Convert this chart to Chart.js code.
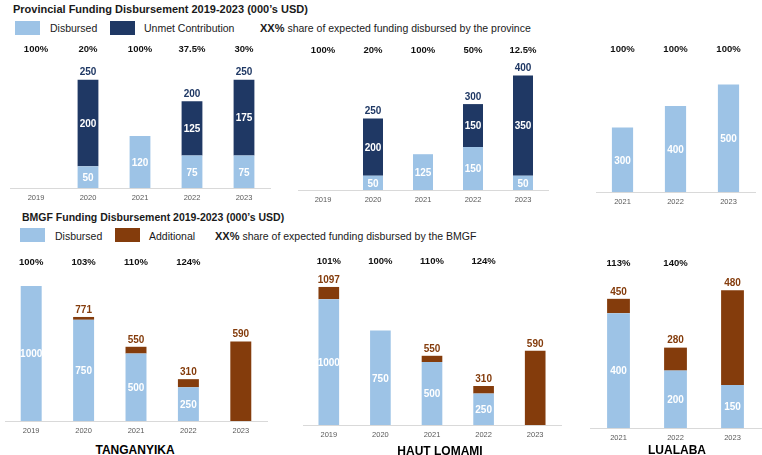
<!DOCTYPE html>
<html lang="en">
<head>
  <meta charset="UTF-8" />
  <title>Funding Disbursement 2019-2023</title>
  <script src="https://cdn.jsdelivr.net/npm/chart.js"></script>
  <style>
    body {
      margin: 0;
      padding: 0;
      background: #fff;
      font-family: "Liberation Sans", Arial, sans-serif;
    }
    #page {
      position: relative;
      width: 762px;
      height: 455px;
      overflow: hidden;
    }
    #page canvas, .txt, .swatch {
      position: absolute;
    }
    .title {
      font-weight: bold;
      font-size: 11px;
      color: #1a1a1a;
      white-space: nowrap;
    }
    .leg {
      font-size: 10.5px;
      color: #1a1a1a;
      white-space: nowrap;
      line-height: 14px;
    }
    .leg b {
      font-size: 11px;
    }
    .swatch {
      width: 25px;
      height: 14px;
    }
    .region {
      font-weight: bold;
      font-size: 12px;
      width: 200px;
      text-align: center;
      line-height: 16px;
      color: #000;
    }
  </style>
</head>
<body>

<div id="page">
  <div class="txt title" style="left:13px; top:2px; line-height:14px;">Provincial Funding Disbursement 2019-2023 (000’s USD)</div>
  <div class="swatch" style="left:15px; top:21px; background:#9dc3e6;"></div>
  <div class="txt leg" style="left:50px; top:21px;">Disbursed</div>
  <div class="swatch" style="left:110px; top:21px; background:#1f3864;"></div>
  <div class="txt leg" style="left:144px; top:21px;">Unmet Contribution</div>
  <div class="txt leg" style="left:260px; top:21px;"><b>XX%</b> share of expected funding disbursed by the province</div>

  <div class="txt title" style="left:22px; top:210px; line-height:14px; font-size:10.5px;">BMGF Funding Disbursement 2019-2023 (000’s USD)</div>
  <div class="swatch" style="left:20px; top:228px; background:#9dc3e6;"></div>
  <div class="txt leg" style="left:55px; top:229px;">Disbursed</div>
  <div class="swatch" style="left:115px; top:228px; background:#843c0c;"></div>
  <div class="txt leg" style="left:149px; top:229px;">Additional</div>
  <div class="txt leg" style="left:215px; top:229px;"><b>XX%</b> share of expected funding disbursed by the BMGF</div>

  <canvas id="provTang"></canvas>
  <canvas id="provHaut"></canvas>
  <canvas id="provLual"></canvas>
  <canvas id="bmgfTang"></canvas>
  <canvas id="bmgfHaut"></canvas>
  <canvas id="bmgfLual"></canvas>

  <div class="txt region" style="left:35px; top:442px;">TANGANYIKA</div>
  <div class="txt region" style="left:340px; top:443px;">HAUT LOMAMI</div>
  <div class="txt region" style="left:577px; top:442px;">LUALABA</div>
</div>

<script>
  // data (000's USD)
  const yearsFull = ['2019', '2020', '2021', '2022', '2023'];
  const yearsLualaba = ['2021', '2022', '2023'];

  const provTangDisbursed = [null, 50, 120, 75, 75];
  const provTangUnmet = [null, 200, null, 125, 175];
  const provTangShare = ['100%', '20%', '100%', '37.5%', '30%'];

  const provHautDisbursed = [null, 50, 125, 150, 50];
  const provHautUnmet = [null, 200, null, 150, 350];
  const provHautShare = ['100%', '20%', '100%', '50%', '12.5%'];

  const provLualDisbursed = [300, 400, 500];
  const provLualUnmet = [null, null, null];
  const provLualShare = ['100%', '100%', '100%'];

  const bmgfTangDisbursed = [1000, 750, 500, 250, null];
  const bmgfTangAdditional = [null, 21, 50, 60, 590];
  const bmgfTangShare = ['100%', '103%', '110%', '124%', ''];

  const bmgfHautDisbursed = [1000, 750, 500, 250, null];
  const bmgfHautAdditional = [97, null, 50, 60, 590];
  const bmgfHautShare = ['101%', '100%', '110%', '124%', ''];

  const bmgfLualDisbursed = [400, 200, 150];
  const bmgfLualAdditional = [50, 80, 330];
  const bmgfLualShare = ['113%', '140%', ''];

  const LIGHT = '#9dc3e6';
  const NAVY = '#1f3864';
  const BROWN = '#843c0c';
  const FONT = '"Liberation Sans", Arial, sans-serif';
  const AXIS_H = 20;

  Chart.defaults.font.family = FONT;

  // values inside the bars, totals on top, share % row
  const barLabels = {
    id: 'barLabels',
    afterDatasetsDraw(chart, args, opts) {
      const ctx = chart.ctx;
      const xs = chart.scales.x, ys = chart.scales.y;
      const base = chart.data.datasets[0].data;
      const extra = chart.data.datasets[1].data;
      ctx.save();
      ctx.textAlign = 'center';
      ctx.textBaseline = 'middle';
      ctx.font = 'bold 10px ' + FONT;
      ctx.fillStyle = '#fff';
      chart.data.datasets.forEach((ds, di) => {
        if (!ds.innerLabels) return;
        chart.getDatasetMeta(di).data.forEach((bar, i) => {
          if (ds.data[i] == null) return;
          ctx.fillText(ds.data[i], bar.x, (bar.y + bar.base) / 2 + 1);
        });
      });
      ctx.textBaseline = 'bottom';
      ctx.fillStyle = opts.totalColor;
      extra.forEach((v, i) => {
        if (v == null) return;
        const total = (base[i] || 0) + v;
        ctx.fillText(total, xs.getPixelForValue(i), ys.getPixelForValue(total) - 2);
      });
      ctx.textBaseline = 'middle';
      ctx.font = 'bold 9.5px ' + FONT;
      ctx.fillStyle = '#111';
      opts.share.forEach((s, i) => {
        if (s) ctx.fillText(s, xs.getPixelForValue(i), opts.shareY);
      });
      ctx.restore();
    }
  };

  function makePanel(id, p) {
    const canvas = document.getElementById(id);
    const h = p.baseline - p.top + AXIS_H;
    canvas.width = p.width;
    canvas.height = h;
    canvas.style.left = p.left + 'px';
    canvas.style.top = p.top + 'px';
    canvas.style.width = p.width + 'px';
    canvas.style.height = h + 'px';

    return new Chart(canvas, {
      type: 'bar',
      data: {
        labels: p.labels,
        datasets: [
          { data: p.disbursed, backgroundColor: LIGHT, innerLabels: true },
          { data: p.extra, backgroundColor: p.extraColor, innerLabels: p.extraInner }
        ]
      },
      options: {
        responsive: false,
        animation: false,
        devicePixelRatio: 1,
        datasets: { bar: { categoryPercentage: 1, barPercentage: 0.4, borderWidth: 0 } },
        layout: {
          padding: {
            top: p.plotTop - p.top,
            left: p.plotLeft - p.left,
            right: p.left + p.width - p.plotRight,
            bottom: 0
          }
        },
        scales: {
          x: {
            stacked: true,
            grid: { display: false, drawTicks: false, tickLength: 0 },
            border: { display: true, color: '#d9d9d9', width: 1 },
            ticks: { color: '#595959', font: { size: 7.5 }, padding: 5 }
          },
          y: { stacked: true, display: false, min: 0, max: p.max }
        },
        plugins: {
          legend: { display: false },
          tooltip: { enabled: false },
          barLabels: { share: p.share, shareY: p.shareY - p.top, totalColor: p.totalColor }
        }
      },
      plugins: [barLabels]
    });
  }

  makePanel('provTang', {
    labels: yearsFull, disbursed: provTangDisbursed, extra: provTangUnmet, share: provTangShare,
    extraColor: NAVY, extraInner: true, totalColor: NAVY,
    left: 0, top: 38, width: 275, plotLeft: 10, plotRight: 270, plotTop: 68, baseline: 187, max: 277, shareY: 49
  });
  makePanel('provHaut', {
    labels: yearsFull, disbursed: provHautDisbursed, extra: provHautUnmet, share: provHautShare,
    extraColor: NAVY, extraInner: true, totalColor: NAVY,
    left: 290, top: 38, width: 270, plotLeft: 298, plotRight: 548, plotTop: 68, baseline: 189, max: 426, shareY: 50
  });
  makePanel('provLual', {
    labels: yearsLualaba, disbursed: provLualDisbursed, extra: provLualUnmet, share: provLualShare,
    extraColor: NAVY, extraInner: true, totalColor: NAVY,
    left: 580, top: 38, width: 182, plotLeft: 596, plotRight: 755, plotTop: 68, baseline: 191, max: 577, shareY: 49
  });
  makePanel('bmgfTang', {
    labels: yearsFull, disbursed: bmgfTangDisbursed, extra: bmgfTangAdditional, share: bmgfTangShare,
    extraColor: BROWN, extraInner: false, totalColor: BROWN,
    left: 0, top: 250, width: 275, plotLeft: 5, plotRight: 267, plotTop: 275, baseline: 420, max: 1082, shareY: 262
  });
  makePanel('bmgfHaut', {
    labels: yearsFull, disbursed: bmgfHautDisbursed, extra: bmgfHautAdditional, share: bmgfHautShare,
    extraColor: BROWN, extraInner: false, totalColor: BROWN,
    left: 295, top: 250, width: 275, plotLeft: 303, plotRight: 561, plotTop: 275, baseline: 424, max: 1192, shareY: 261
  });
  makePanel('bmgfLual', {
    labels: yearsLualaba, disbursed: bmgfLualDisbursed, extra: bmgfLualAdditional, share: bmgfLualShare,
    extraColor: BROWN, extraInner: false, totalColor: BROWN,
    left: 585, top: 250, width: 177, plotLeft: 590, plotRight: 761, plotTop: 275, baseline: 427, max: 533, shareY: 263
  });
</script>

</body>
</html>
